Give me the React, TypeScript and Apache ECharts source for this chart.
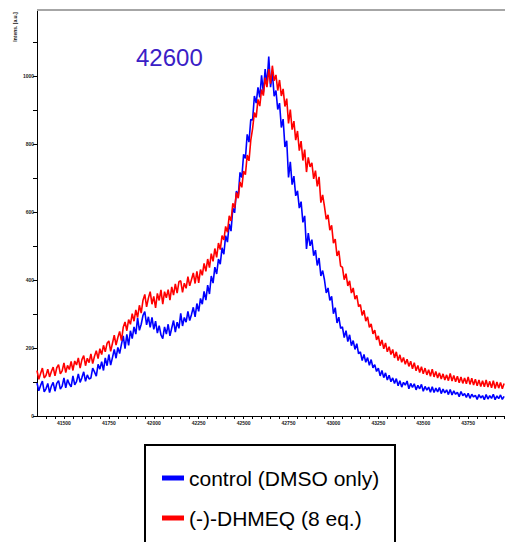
import React, { useEffect, useRef } from "react";
import * as echarts from "echarts";

// m/z sampling grid of the spectrum
const massStart = 41350;
const massStep = 10;

// x tick labels (every 250), y tick labels (every 200)
const xTickLabels = [41500, 41750, 42000, 42250, 42500, 42750, 43000, 43250, 43500, 43750];
const yTickLabels = [0, 200, 400, 600, 800, 1000];

const seriesNames = ["control (DMSO only)", "(-)-DHMEQ (8 eq.)"];
const peakLabel = "42600";
const yAxisTitle = "Intens. [a.u.]";

// control (DMSO only) (one row = 100 mass units)
const controlValues = [
  97, 74, 90, 103, 71, 80, 96, 69, 88, 99,
  73, 96, 104, 79, 88, 112, 83, 107, 94, 86,
  118, 92, 101, 124, 99, 113, 130, 102, 121, 109,
  112, 141, 130, 117, 152, 138, 160, 134, 171, 148,
  181, 150, 172, 196, 170, 202, 184, 211, 236, 198,
  240, 208, 251, 228, 262, 241, 289, 252, 270, 296,
  307, 268, 292, 261, 290, 255, 279, 244, 266, 239,
  228, 262, 241, 270, 236, 259, 281, 247, 276, 258,
  302, 265, 290, 276, 308, 281, 299, 320, 292, 331,
  308, 346, 329, 367, 341, 385, 359, 412, 391, 438,
  418, 462, 447, 495, 476, 531, 512, 565, 544, 612,
  598, 662, 645, 717, 702, 770, 758, 829, 806, 873,
  871, 942, 921, 967, 938, 1003, 952, 1021, 974, 1058,
  968, 1012, 941, 958, 902, 921, 849, 874, 792, 810,
  702, 748, 681, 706, 648, 663, 612, 631, 570, 589,
  492, 538, 501, 519, 472, 488, 443, 465, 412, 428,
  401, 362, 377, 340, 352, 301, 319, 274, 291, 258,
  262, 231, 251, 219, 239, 207, 222, 196, 213, 183,
  189, 163, 181, 158, 172, 149, 166, 142, 151, 131,
  141, 118, 134, 113, 127, 106, 120, 101, 112, 96,
  110, 89, 104, 85, 99, 91, 103, 80, 96, 84,
  95, 77, 90, 80, 93, 73, 87, 76, 85, 70,
  86, 69, 82, 71, 84, 66, 79, 68, 77, 63,
  78, 62, 74, 64, 70, 57, 72, 60, 66, 55,
  67, 52, 64, 56, 61, 49, 63, 53, 60, 48,
  63, 50, 60, 52, 64, 48, 59, 51, 62, 49,
  58,
];

// (-)-DHMEQ (8 eq.) (one row = 100 mass units)
const dhmeqValues = [
  134, 108, 125, 141, 112, 119, 138, 115, 131, 144,
  118, 142, 151, 124, 133, 156, 128, 149, 137, 161,
  134, 162, 150, 171, 141, 166, 178, 148, 170, 157,
  183, 154, 176, 192, 169, 198, 181, 208, 189, 214,
  221, 190, 214, 238, 209, 231, 249, 222, 261, 277,
  251, 284, 270, 301, 279, 312, 290, 326, 303, 341,
  358, 321, 347, 366, 329, 352, 318, 361, 340, 371,
  329, 366, 348, 372, 341, 380, 356, 389, 362, 395,
  398, 364, 391, 376, 410, 383, 402, 421, 390, 426,
  392, 431, 414, 449, 426, 462, 437, 478, 455, 493,
  467, 509, 490, 531, 518, 558, 541, 589, 574, 626,
  612, 658, 641, 689, 673, 721, 710, 768, 751, 812,
  846, 893, 879, 932, 912, 961, 943, 996, 968, 1021,
  978, 1031, 987, 1004, 958, 989, 942, 963, 911, 934,
  861, 902, 843, 868, 812, 839, 781, 809, 752, 784,
  718, 761, 733, 745, 698, 722, 676, 704, 628, 651,
  617, 579, 592, 547, 561, 509, 521, 471, 486, 441,
  438, 401, 419, 383, 398, 362, 377, 344, 355, 322,
  328, 296, 311, 279, 292, 261, 271, 242, 253, 224,
  236, 207, 224, 198, 215, 189, 204, 181, 196, 171,
  189, 163, 180, 158, 172, 152, 167, 146, 161, 139,
  157, 133, 149, 128, 145, 124, 141, 121, 136, 117,
  138, 115, 131, 112, 127, 109, 124, 106, 121, 104,
  125, 103, 119, 101, 117, 98, 115, 96, 112, 95,
  115, 93, 111, 91, 108, 89, 106, 87, 104, 86,
  106, 85, 102, 83, 104, 81, 100, 82, 99, 80,
  96,
];

const toPairs = (vals: number[]) => vals.map((v, i) => [massStart + i * massStep, v]);

export default function App() {
  const ref = useRef<HTMLDivElement>(null);
  useEffect(() => {
    if (!ref.current) return;
    const chart = echarts.init(ref.current, null, { renderer: "svg" });
    const tickFont = {
      fontSize: 5,
      fontWeight: "bold" as const,
      color: "#222",
      fontFamily: "Liberation Sans, Arial, sans-serif",
    };
    chart.setOption({
      animation: false,
      backgroundColor: "#fff",
      grid: { left: 37, right: 0, top: 10, bottom: 126, containLabel: false, outerBoundsMode: "none" },
      xAxis: {
        type: "value",
        min: 41350,
        max: 43955,
        interval: 50,
        axisLine: { show: true, onZero: false, lineStyle: { color: "#000", width: 1 } },
        axisTick: { show: true, length: 3, lineStyle: { color: "#000", width: 1 } },
        axisLabel: {
          ...tickFont,
          margin: 4,
          showMinLabel: false,
          showMaxLabel: false,
          formatter: (v: number) => (xTickLabels.includes(v) ? String(v) : ""),
        },
        splitLine: { show: false },
      },
      yAxis: {
        type: "value",
        min: 0,
        max: 1195,
        interval: 100,
        axisLine: { show: true, lineStyle: { color: "#000", width: 1 } },
        axisTick: { show: true, length: 4, lineStyle: { color: "#000", width: 1 } },
        axisLabel: {
          ...tickFont,
          margin: 3,
          showMaxLabel: false,
          formatter: (v: number) => (yTickLabels.includes(v) ? String(v) : ""),
        },
        splitLine: { show: false },
      },
      legend: {
        show: true,
        orient: "vertical",
        left: 162,
        top: 466,
        padding: 0,
        itemGap: 16,
        itemWidth: 22,
        itemHeight: 5,
        icon: "rect",
        z: 10,
        textStyle: {
          fontSize: 21,
          lineHeight: 24,
          color: "#000",
          fontFamily: "Liberation Sans, Arial, sans-serif",
        },
        data: seriesNames,
      },
      graphic: [
        {
          type: "line",
          z: 5,
          shape: { x1: 37, y1: 10, x2: 505, y2: 10 },
          style: { stroke: "#a6a6a6", lineWidth: 2 },
        },
        {
          type: "text",
          z: 5,
          x: 136,
          y: 45,
          style: {
            text: peakLabel,
            fontSize: 24,
            fill: "#3a20c6",
            fontFamily: "Liberation Sans, Arial, sans-serif",
            verticalAlign: "top",
            align: "left",
          },
        },
        {
          type: "text",
          z: 5,
          x: 15,
          y: 27,
          rotation: Math.PI / 2,
          style: {
            text: yAxisTitle,
            fontSize: 5,
            fontWeight: "bold",
            fill: "#222",
            fontFamily: "Liberation Sans, Arial, sans-serif",
            align: "center",
            verticalAlign: "middle",
          },
        },
        {
          type: "rect",
          z: 1,
          shape: { x: 145, y: 445, width: 250, height: 130 },
          style: { fill: "#fff", stroke: "#000", lineWidth: 2 },
        },
      ],
      series: [
        {
          name: seriesNames[0],
          type: "line",
          data: toPairs(controlValues),
          showSymbol: false,
          symbol: "none",
          color: "#0000ff",
          lineStyle: { color: "#0000ff", width: 1.6 },
          z: 2,
        },
        {
          name: seriesNames[1],
          type: "line",
          data: toPairs(dhmeqValues),
          showSymbol: false,
          symbol: "none",
          color: "#ff0000",
          lineStyle: { color: "#ff0000", width: 1.6 },
          z: 3,
        },
      ],
    });
    return () => chart.dispose();
  }, []);
  return (
    <div
      ref={ref}
      style={{ position: "fixed", left: 0, top: 0, width: 505, height: 542 }}
    />
  );
}
